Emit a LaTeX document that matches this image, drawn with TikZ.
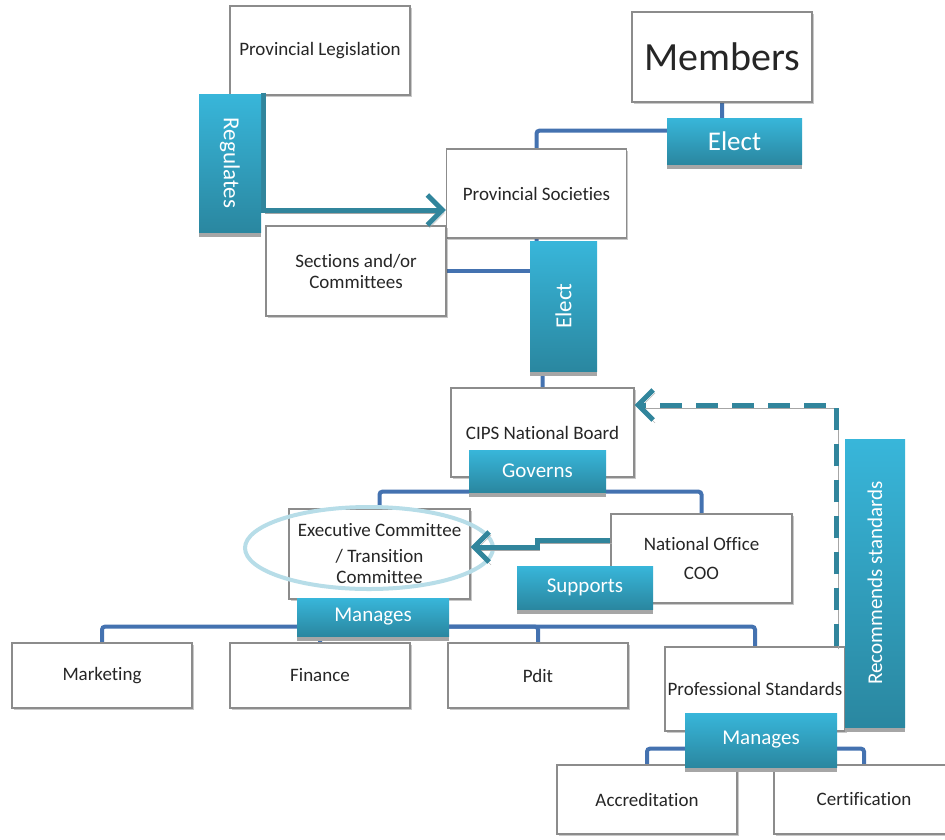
\documentclass[tikz,border=0pt]{standalone}
\usepackage{fontspec}
\setmainfont{Carlito}[Ligatures=NoCommon]
\usepackage{graphicx}
\usetikzlibrary{arrows.meta,shadows,calc,backgrounds}
\definecolor{connblue}{HTML}{4472B0}
\definecolor{tealarr}{HTML}{31859C}
\definecolor{labtop}{HTML}{38B6DA}
\definecolor{labbot}{HTML}{2A87A0}
\definecolor{shadowgray}{HTML}{A6A6A6}
\definecolor{boxgray}{HTML}{8C8C8C}
\definecolor{ellblue}{HTML}{B7DDE8}
\definecolor{txt}{HTML}{262626}
\begin{document}
\begin{tikzpicture}[x=1pt,y=-1pt,
  box/.style={draw=boxgray, line width=1.2pt, fill=white, minimum width=180pt, minimum height=89pt,
    font=\fontsize{19}{21}\selectfont, text=txt, align=center, inner sep=1pt,
    drop shadow={shadow xshift=1.5pt, shadow yshift=-2pt, opacity=0.3, fill=black!70}},
  lab/.style={inner sep=0pt, top color=labtop, bottom color=labbot, text=white,
    font=\fontsize{21}{24}\selectfont,
    drop shadow={shadow xshift=0pt, shadow yshift=-4.5pt, opacity=1, fill=shadowgray}},
  conn/.style={draw=connblue, line width=4pt, rounded corners=3pt},
  arr/.style={draw=tealarr, line width=5pt, -{Straight Barb[length=15pt,width=30pt]},
    preaction={draw=shadowgray, transform canvas={shift={(2pt,-3pt)}}}},
  ellip/.style={draw=ellblue, line width=4pt},
]
\useasboundingbox (0,0) rectangle (945,839);
\clip (0,0) rectangle (945,839);

% ---------- boxes ----------
\node[box, minimum height=90pt, font=\fontsize{40}{48}\selectfont] (members) at (722,57) {Members};
\node[box] (provsoc) at (536.5,193.5) {Provincial Societies};
\node[box, minimum height=90pt] (sections) at (356,271) {Sections and/or\\Committees};
\node[box, minimum width=183pt] (cips) at (542.5,432.5) {CIPS National Board};
\node[box, minimum width=181pt, minimum height=90pt] (exec) at (379.5,554) {Executive Committee\\[5pt]/ Transition\\Committee};
\node[box, minimum width=181pt] (natoff) at (701.5,558.5) {National Office\\[8pt]COO};
\node[box, minimum height=65pt] (mkt) at (102,675.5) {Marketing};
\node[box, minimum height=65pt] (fin) at (320,675.5) {Finance};
\node[box, minimum height=65pt] (pdit) at (538,675.5) {Pdit};
\node[box, minimum height=84pt] (profstd) at (755,689) {Professional Standards};
\node[box, minimum height=69pt] (accr) at (647,799.5) {Accreditation};
\node[box, minimum height=69pt] (cert) at (864,799.5) {Certification};
\node[box] (provleg) at (320,50.5) {Provincial Legislation};

% ---------- blue connectors (behind boxes) ----------
\begin{pgfonlayer}{background}
\draw[conn] (members.south) -- ++(0,28) -| (provsoc.north);
\draw[conn] (sections.east) -- (563,271);
\draw[conn] (provsoc.south) -- ++(0,70) -| (cips.north);
\draw[conn] (cips.south) -- ++(0,14) -| (exec.north);
\draw[conn] (cips.south) -- ++(0,14) -| (natoff.north);
\draw[conn] (exec.south) -- ++(0,27) -| (mkt.north);
\draw[conn] (exec.south) -- ++(0,27) -| (fin.north);
\draw[conn] (exec.south) -- ++(0,27) -| (pdit.north);
\draw[conn] (exec.south) -- ++(0,27) -| (profstd.north);
\draw[conn] (profstd.south) -- ++(0,17) -| (accr.north);
\draw[conn] (profstd.south) -- ++(0,17) -| (cert.north);
\end{pgfonlayer}

% ---------- ellipse ----------
\draw[ellip] (369,548) ellipse [x radius=124, y radius=41];

% ---------- teal arrows ----------
\draw[arr] ($(provleg.south west)+(34,-3)$) |- (provsoc.west |- 0,210);
\draw[arr] (natoff.west |- 0,540) -- (537,540) -- (537,547) -- (exec.east |- 0,547);
\draw[arr, dash pattern=on 22pt off 14pt] ($(profstd.north east)+(-9,0)$) |- (cips.east |- 0,405);

% ---------- labels ----------
\node[lab, minimum width=135pt, minimum height=46pt, font=\fontsize{27}{30}\selectfont] (elect1) at (734.5,141) {Elect};
\node[lab, minimum width=62pt, minimum height=138pt, font=\fontsize{23}{26}\selectfont] (regul) at (230,163) {\rotatebox{-90}{Regulates}};
\node[lab, minimum width=67pt, minimum height=130pt, font=\fontsize{23}{26}\selectfont] (elect2) at (563.5,306) {\rotatebox{90}{Elect}};
\node[lab, minimum width=137pt, minimum height=42pt] (governs) at (537.5,471) {Governs};
\node[lab, minimum width=136pt, minimum height=43pt] (supports) at (585,587.5) {Supports};
\node[lab, minimum width=152pt, minimum height=38pt] (manages1) at (373,617) {Manages};
\node[lab, minimum width=60pt, minimum height=288pt] (recstd) at (875,583) {\rotatebox{90}{Recommends standards}};
\node[lab, minimum width=152pt, minimum height=54pt] (manages2) at (761,740) {Manages};
\end{tikzpicture}
\end{document}
